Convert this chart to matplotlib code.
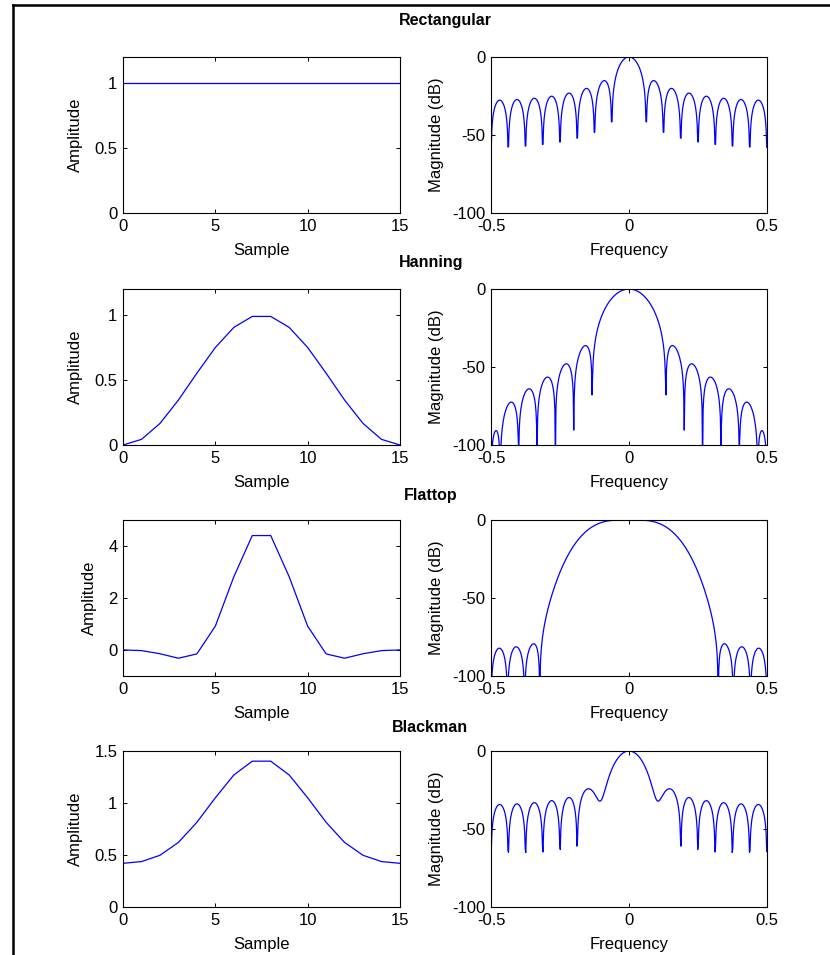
import matplotlib
matplotlib.use("Agg")
import matplotlib.pyplot as plt
from matplotlib.lines import Line2D
from matplotlib.ticker import FormatStrFormatter
import numpy as np

plt.rcParams['font.family'] = ['Liberation Sans', 'DejaVu Sans']
plt.rcParams['axes.unicode_minus'] = False

# 16-point windows (sample values)
samples = np.arange(16)
rect_win = [1.0] * 16
hann_win = [0.0, 0.04323, 0.16543, 0.34549, 0.55226, 0.75, 0.90451, 0.98907,
            0.98907, 0.90451, 0.75, 0.55226, 0.34549, 0.16543, 0.04323, 0.0]
flat_win = [0.004, -0.02321, -0.14367, -0.31625, -0.15074, 0.916, 2.81425, 4.40161,
            4.40161, 2.81425, 0.916, -0.15074, -0.31625, -0.14367, -0.02321, 0.004]
black_win = [0.42, 0.43676, 0.49707, 0.62077, 0.81401, 1.05, 1.26923, 1.40216,
             1.40216, 1.26923, 1.05, 0.81401, 0.62077, 0.49707, 0.43676, 0.42]

names = ['Rectangular', 'Hanning', 'Flattop', 'Blackman']
windows = [rect_win, hann_win, flat_win, black_win]
amp_limits = [(0, 1.2), (0, 1.2), (-1, 5), (0, 1.5)]
amp_ticks = [[0, 0.5, 1], [0, 0.5, 1], [0, 2, 4], [0, 0.5, 1, 1.5]]
title_x = [445, 431, 431, 430]
title_y = [20, 262, 495, 727]

# 512-point frequency grid (bin centres), -0.5 .. 0.5
nfft = 512
freqs = (np.arange(nfft) + 0.5) / nfft - 0.5


def spectrum_db(w):
    w = np.asarray(w, dtype=float)
    n = np.arange(len(w))
    W = np.exp(-2j * np.pi * np.outer(freqs, n)) @ w
    mag = np.abs(W)
    return 10 * np.log(mag / mag.max())


W_PX, H_PX = 830, 955
fig = plt.figure(figsize=(W_PX / 100, H_PX / 100), dpi=100)

row_top = [57, 289, 520, 751]
row_h = 156
left_x, left_w = 123, 277
right_x, right_w = 491, 276


def style(ax):
    ax.tick_params(direction='in', length=3, width=0.7, top=True, right=True,
                   labelsize=12, pad=4)
    for s in ax.spines.values():
        s.set_linewidth(0.8)


for i in range(4):
    bottom = 1 - (row_top[i] + row_h) / H_PX
    h = row_h / H_PX

    ax = fig.add_axes([left_x / W_PX, bottom, left_w / W_PX, h])
    ax.plot(samples, windows[i], color='b', lw=0.9)
    ax.set_xlim(0, 15)
    ax.set_ylim(*amp_limits[i])
    ax.set_xticks([0, 5, 10, 15])
    ax.set_yticks(amp_ticks[i])
    ax.yaxis.set_major_formatter(FormatStrFormatter('%g'))
    ax.set_xlabel('Sample', fontsize=12, labelpad=7)
    ax.set_ylabel('Amplitude', fontsize=12, labelpad=8)
    style(ax)

    ax2 = fig.add_axes([right_x / W_PX, bottom, right_w / W_PX, h])
    ax2.plot(freqs, spectrum_db(windows[i]), color='b', lw=0.9)
    ax2.set_xlim(-0.5, 0.5)
    ax2.set_ylim(-100, 0)
    ax2.set_xticks([-0.5, 0, 0.5])
    ax2.set_yticks([-100, -50, 0])
    ax2.xaxis.set_major_formatter(FormatStrFormatter('%g'))
    ax2.set_xlabel('Frequency', fontsize=12, labelpad=7)
    ax2.set_ylabel('Magnitude (dB)', fontsize=12, labelpad=6)
    style(ax2)

    fig.text(title_x[i] / W_PX, 1 - title_y[i] / H_PX, names[i],
             ha='center', va='center', fontsize=11.5, fontweight='bold')

# window frame
fig.add_artist(Line2D([13 / W_PX, 13 / W_PX], [0, 1 - 5 / H_PX],
                      transform=fig.transFigure, color='k', lw=1.8))
fig.add_artist(Line2D([13 / W_PX, 1], [1 - 5 / H_PX, 1 - 5 / H_PX],
                      transform=fig.transFigure, color='k', lw=1.8))

fig.savefig('out.png', dpi=100)
